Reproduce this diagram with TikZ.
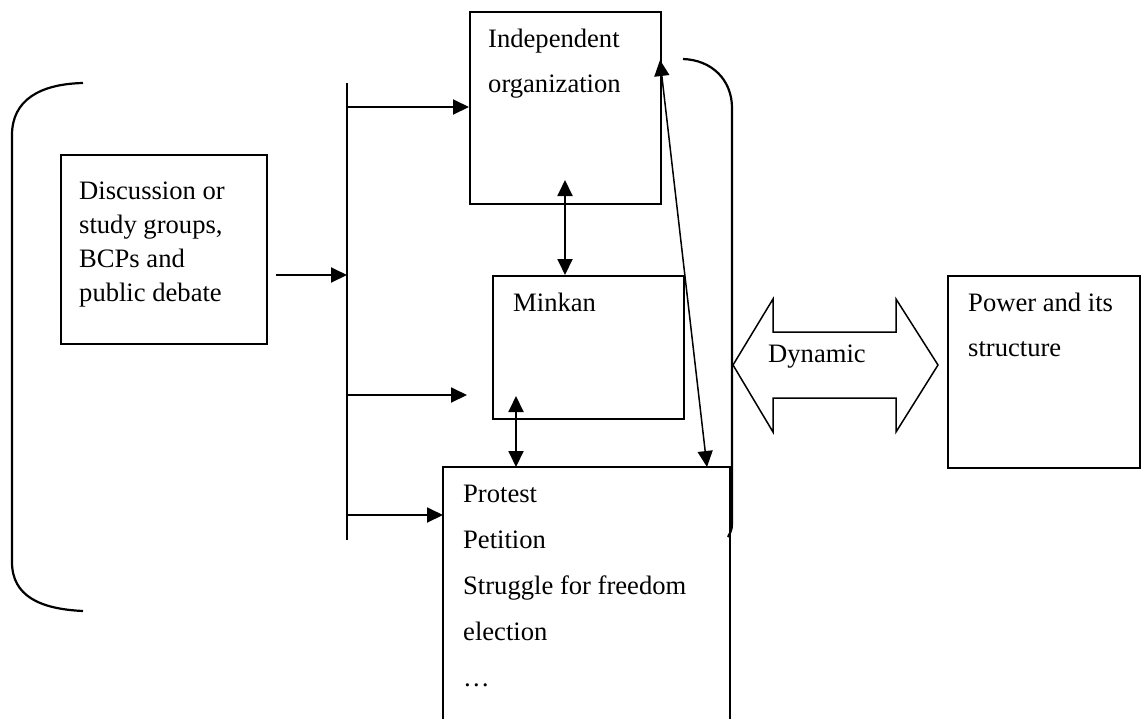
\documentclass[tikz,border=0pt]{standalone}
\usepackage{fontspec}
\setmainfont{Liberation Serif}
\usetikzlibrary{arrows.meta}
\begin{document}
\begin{tikzpicture}[x=1pt,y=-1pt,
  line/.style={line width=1.9pt},
  box/.style={draw,line width=1.9pt,rectangle,inner sep=0pt,anchor=north west},
  tip/.style={-{Triangle[length=16pt,width=15pt]}},
  dtip/.style={{Triangle[length=16pt,width=15pt]}-{Triangle[length=16pt,width=15pt]}},
  txt/.style={anchor=base west,inner sep=0pt,font=\fontsize{26.6}{34}\selectfont}]
\useasboundingbox (0,0) rectangle (1142,718);
\fill[white] (0,0) rectangle (1142,718);

% boxes
\node[box,minimum width=206pt,minimum height=189pt] (disc) at (60,154) {};
\node[box,minimum width=191pt,minimum height=192pt] (indep) at (469,11) {};
\node[box,minimum width=191pt,minimum height=143pt] (minkan) at (492,275) {};
\node[box,draw=none,minimum width=285pt,minimum height=251pt] (protest) at (443,467) {};
\node[box,minimum width=192pt,minimum height=192pt] (power) at (947,275) {};
\draw[line] (protest.south west) -- (protest.north west) -- (protest.north east) -- (protest.south east);

% texts
\node[txt] (d1) at (79,199) {Discussion or};
\node[txt] (d2) at (79,233) {study groups,};
\node[txt] (d3) at (79,267) {BCPs and};
\node[txt] (d4) at (79,301) {public debate};
\node[txt] (i1) at (488,47) {Independent};
\node[txt] (i2) at (488,92) {organization};
\node[txt] (m1) at (513,311) {Minkan};
\node[txt] (p1) at (463,502) {Protest};
\node[txt] (p2) at (463,548) {Petition};
\node[txt] (p3) at (463,594) {Struggle for freedom};
\node[txt] (p4) at (463,640) {election};
\node[txt] (p5) at (463,686) {\dots};
\node[txt] (w1) at (968,311) {Power and its};
\node[txt] (w2) at (968,356) {structure};

% left bracket
\draw[line width=2.2pt] (83,83) .. controls (40,84) and (12,100) .. (12,135)
  -- (12,562) .. controls (12,596) and (40,609) .. (83,611);

% bus
\coordinate (busT) at (347,83);
\coordinate (busB) at (347,540);
\draw[line] (busT) -- (busB);
\coordinate (b1) at (347,107);
\coordinate (b2) at (347,275);
\coordinate (b3) at (347,395);
\coordinate (b4) at (347,515);
\coordinate (m0) at (467,395);
\draw[line,tip] (disc.east |- b2) ++(8,0) -- (b2);
\draw[line,tip] (b1) -- (indep.west |- b1);
\draw[line,tip] (b3) -- (m0);
\draw[line,tip] (b4) -- (protest.west |- b4);

% vertical double arrows
\coordinate (a1) at (565,180);
\coordinate (a2) at (516,396);
\draw[line,dtip] (a1) -- (minkan.north -| a1);
\draw[line,dtip] (a2) -- (protest.north -| a2);

% diagonal
\coordinate (g1) at (660,60);
\coordinate (g2) at (707,467);
\draw[line width=1.5pt,dtip] (g1) -- (g2);

% right bracket
\draw[line width=2.2pt] (683,59) .. controls (712,60) and (732,80) .. (732,108)
  -- (732,524) .. controls (732,530) and (730,533) .. (728,537);

% dynamic double arrow
\draw[line width=1.5pt] (733,365) -- (773,299) -- (773,332) -- (896,332) -- (896,299)
  -- (938,365) -- (896,432) -- (896,398) -- (773,398) -- (773,432) -- cycle;
\node[txt] (dyn) at (768,362) {Dynamic};
\end{tikzpicture}
\end{document}
